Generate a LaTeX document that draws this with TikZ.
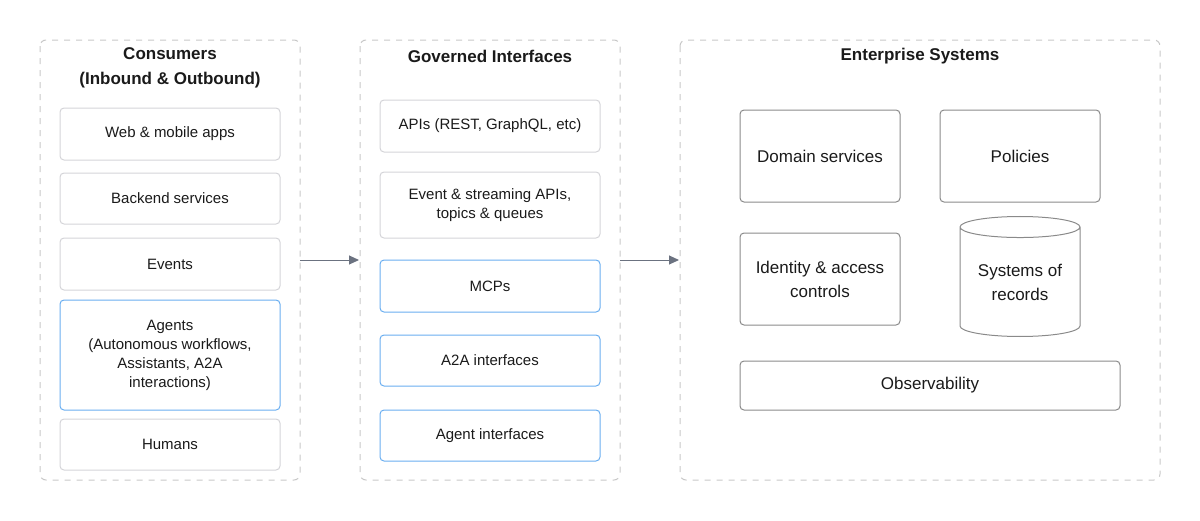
\documentclass[tikz,border=0pt]{standalone}
\usepackage{fontspec}
\setmainfont{Liberation Sans}
\usetikzlibrary{shapes.geometric,arrows.meta}
\definecolor{panel}{HTML}{C8C8C8}
\definecolor{boxg}{HTML}{D4D4D8}
\definecolor{boxb}{HTML}{6AAEF0}
\definecolor{boxd}{HTML}{8A8A8A}
\definecolor{txt}{HTML}{1A1A1A}
\definecolor{arr}{HTML}{6B7280}
\tikzset{
 panelbox/.style={draw=panel,dashed,rounded corners=3pt,line width=0.5pt},
 gbox/.style={draw=boxg,rounded corners=2pt,line width=0.5pt,text=txt,font=\fontsize{7.5}{9.5}\selectfont,align=center},
 bbox/.style={gbox,draw=boxb},
 dbox/.style={gbox,draw=boxd,font=\fontsize{8.5}{12}\selectfont},
 ttl/.style={font=\bfseries\fontsize{8.5}{12.5}\selectfont,text=txt,align=center},
 conn/.style={draw=arr,line width=0.5pt,-{Triangle[length=5pt,width=4.5pt]}}
}
\begin{document}
\begin{tikzpicture}[x=0.5pt,y=-0.5pt]
\useasboundingbox (0,0) rectangle (1200,520);
\draw[panelbox] (40,40) rectangle (300,480);
\draw[panelbox] (360,40) rectangle (620,480);
\draw[panelbox] (680,40) rectangle (1160,480);
\node[ttl] (t1) at (170,68) {Consumers\\(Inbound \& Outbound)};
\node[ttl] (t2) at (490,56) {Governed Interfaces};
\node[ttl] (t3) at (920,56) {Enterprise Systems};
\newcommand\bx[7]{\node[#1,minimum width={(#4-#3)*0.5pt},minimum height={(#6-#5)*0.5pt},inner sep=0pt] (#2) at ({(#3+#4)/2},{(#5+#6)/2}) {#7};}
\bx{gbox}{c1}{60}{280}{108}{160}{Web \& mobile apps}
\bx{gbox}{c2}{60}{280}{173}{224}{Backend services}
\bx{gbox}{c3}{60}{280}{238}{290}{Events}
\bx{bbox}{c4}{60}{280}{300}{410}{Agents\\(Autonomous workflows,\\Assistants, A2A\\interactions)}
\bx{gbox}{c5}{60}{280}{419}{470}{Humans}
\bx{gbox}{g1}{380}{600}{100}{152}{APIs (REST, GraphQL, etc)}
\bx{gbox}{g2}{380}{600}{172}{238}{Event \& streaming APIs,\\topics \& queues}
\bx{bbox}{g3}{380}{600}{260}{312}{MCPs}
\bx{bbox}{g4}{380}{600}{335}{386}{A2A interfaces}
\bx{bbox}{g5}{380}{600}{410}{461}{Agent interfaces}
\bx{dbox}{e1}{740}{900}{110}{202}{Domain services}
\bx{dbox}{e2}{940}{1100}{110}{202}{Policies}
\bx{dbox}{e3}{740}{900}{233}{325}{Identity \& access\\controls}
\bx{dbox}{e5}{740}{1120}{361}{410}{Observability}
\node[cylinder,shape border rotate=90,aspect=0.25,draw=boxd,line width=0.5pt,minimum width=60pt,minimum height=60pt,inner sep=0pt,align=center,text=txt,font=\fontsize{8.5}{12}\selectfont] (e4) at (1020,282) {Systems of\\records};
\coordinate (a1) at (300,260); \coordinate (b1) at (359,260);
\coordinate (a2) at (620,260); \coordinate (b2) at (679,260);
\draw[conn] (a1) -- (b1);
\draw[conn] (a2) -- (b2);
\end{tikzpicture}
\end{document}
